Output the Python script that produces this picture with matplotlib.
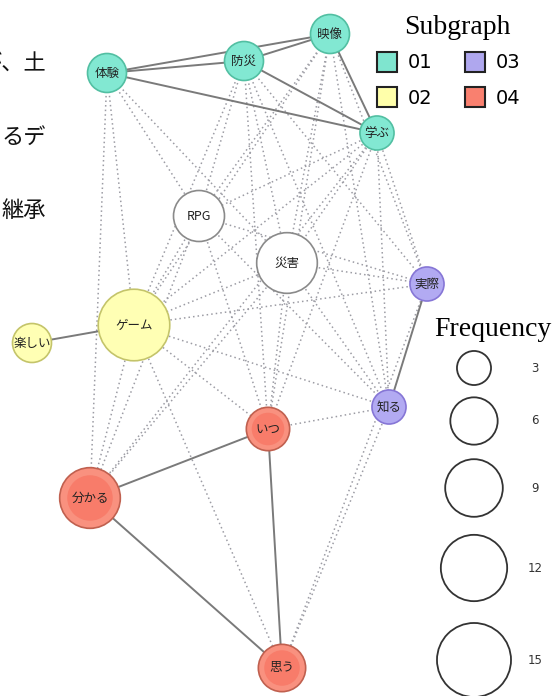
import matplotlib
matplotlib.use("Agg")
import matplotlib.pyplot as plt
from matplotlib.patches import Circle, Rectangle
import numpy as np

plt.rcParams['font.family'] = ['Noto Sans CJK JP', 'DejaVu Sans']

# ---- data ----
words = ["体験", "防災", "映像", "学ぶ", "RPG", "災害", "実際", "ゲーム",
         "楽しい", "知る", "いつ", "分かる", "思う"]
node_x = [107, 244, 330, 377, 199, 287, 427, 134, 32, 389, 268, 90, 282]
node_y = [73, 61, 34, 133, 216, 263, 284, 325, 343, 407, 429, 498, 668]
freq = [4, 4, 4, 3, 7, 10, 3, 14, 4, 3, 5, 10, 6]
subgraph = ["01", "01", "01", "01", "", "", "03", "02", "02", "03", "04", "04", "04"]

solid_edges = [("体験", "防災"), ("体験", "映像"), ("防災", "映像"), ("体験", "学ぶ"),
               ("防災", "学ぶ"), ("映像", "学ぶ"), ("ゲーム", "楽しい"), ("実際", "知る"),
               ("いつ", "分かる"), ("いつ", "思う"), ("分かる", "思う")]
dotted_edges = [("体験", "分かる"), ("体験", "ゲーム"), ("体験", "RPG"), ("体験", "災害"),
                ("防災", "ゲーム"), ("防災", "RPG"), ("防災", "災害"), ("防災", "いつ"),
                ("防災", "実際"), ("防災", "知る"),
                ("映像", "ゲーム"), ("映像", "RPG"), ("映像", "災害"), ("映像", "いつ"),
                ("映像", "実際"), ("映像", "知る"),
                ("学ぶ", "ゲーム"), ("学ぶ", "RPG"), ("学ぶ", "災害"), ("学ぶ", "いつ"),
                ("学ぶ", "実際"), ("学ぶ", "知る"), ("学ぶ", "分かる"),
                ("RPG", "実際"), ("RPG", "知る"), ("RPG", "いつ"), ("RPG", "分かる"),
                ("RPG", "ゲーム"),
                ("災害", "ゲーム"), ("災害", "実際"), ("災害", "いつ"), ("災害", "知る"),
                ("災害", "分かる"),
                ("ゲーム", "実際"), ("ゲーム", "知る"), ("ゲーム", "いつ"),
                ("ゲーム", "分かる"), ("ゲーム", "思う"),
                ("いつ", "知る"), ("知る", "思う"), ("実際", "思う")]

subgraph_labels = ["01", "02", "03", "04"]
freq_levels = [3, 6, 9, 12, 15]
side_text = ["が、土", "るデ", "継承"]

# ---- styles ----
fill = {"01": "#82E8D2", "02": "#FFFFB4", "03": "#B2AAF2", "04": "#F9917F", "": "#FFFFFF"}
inner = {"04": "#F87C6A"}
edgec = {"01": "#52BFA2", "02": "#C4C46A", "03": "#8676D6", "04": "#C0604F", "": "#8A8A8A"}
legend_fill = {"01": "#7FE5CF", "02": "#FFFFAA", "03": "#AFA7EE", "04": "#F9806F"}


def radius(f):
    return np.sqrt(20 + 90 * f)


fig = plt.figure(figsize=(5.57, 6.96), dpi=100)
ax = fig.add_axes([0, 0, 1, 1])
ax.set_xlim(0, 557)
ax.set_ylim(696, 0)
ax.axis("off")

pos = {w: (x, y) for w, x, y in zip(words, node_x, node_y)}

for a, b in dotted_edges:
    ax.plot([pos[a][0], pos[b][0]], [pos[a][1], pos[b][1]], color="#9C9CA4",
            lw=1.1, linestyle=(0, (1, 2)), zorder=1)
for a, b in solid_edges:
    ax.plot([pos[a][0], pos[b][0]], [pos[a][1], pos[b][1]], color="#7A7A7A",
            lw=1.4, zorder=2)

for w, x, y, f, s in zip(words, node_x, node_y, freq, subgraph):
    r = radius(f)
    ax.add_patch(Circle((x, y), r, facecolor=fill[s], edgecolor=edgec[s], lw=1.2, zorder=3))
    if s in inner:
        ax.add_patch(Circle((x, y), r * 0.75, facecolor=inner[s], edgecolor="none", zorder=3))
    ax.text(x, y, w, ha="center", va="center", fontsize=9, color="#222222", zorder=4)

# Subgraph legend
ax.text(457, 28, "Subgraph", family="Liberation Serif", fontsize=20, ha="center", va="center")
for i, lab in enumerate(subgraph_labels):
    col, row = i // 2, i % 2
    x0 = 377 + col * 88
    y0 = 62 + row * 35
    ax.add_patch(Rectangle((x0, y0 - 10), 20, 20, facecolor=legend_fill[lab],
                           edgecolor="#222222", lw=1.5))
    ax.text(x0 + 31, y0 + 1, lab, family="DejaVu Sans", fontsize=14, ha="left", va="center")

# Frequency legend
ax.text(493, 330, "Frequency", family="Liberation Serif", fontsize=20, ha="center", va="center")
fy = [368, 421, 488, 568, 660]
for f, y in zip(freq_levels, fy):
    ax.add_patch(Circle((474, y), radius(f), facecolor="white", edgecolor="#333333", lw=1.3))
    ax.text(535, y, str(f), family="DejaVu Sans", fontsize=8.5, ha="center", va="center",
            color="#333333")

# cropped side text
for t, y in zip(side_text, [64, 137, 210]):
    ax.text(46, y, t, fontsize=16, ha="right", va="center", color="#111111")

fig.savefig("out.png", dpi=100)
